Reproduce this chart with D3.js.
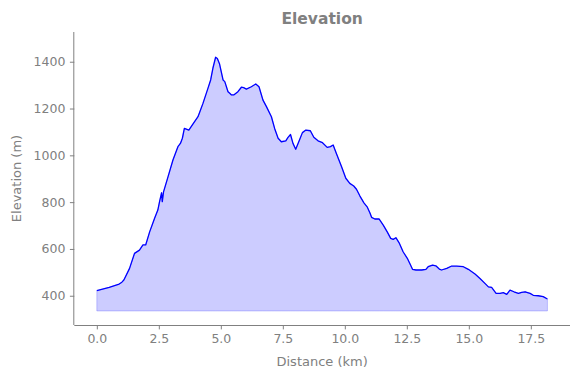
<!DOCTYPE html>
<html>
<head>
<meta charset="utf-8">
<script src="https://cdn.jsdelivr.net/npm/d3@7"></script>
<style>
  html, body { margin: 0; padding: 0; background: #fff; }
  svg { display: block; font-family: "DejaVu Sans", sans-serif; }
</style>
</head>
<body>
<svg id="chart" width="580" height="378"></svg>
<script>
// Distance along the route (km)
const distance = [
  0.00, 0.50, 0.90, 1.01, 1.09, 1.32, 1.52, 1.72, 1.86, 1.97, 2.13, 2.33, 2.46, 2.53, 2.61, 2.64, 2.69,
  2.87, 3.07, 3.27, 3.37, 3.45, 3.53, 3.61, 3.71, 3.88, 4.08, 4.28, 4.48, 4.59, 4.68, 4.79,
  4.86, 4.95, 5.09, 5.16, 5.29, 5.36, 5.43, 5.52, 5.69, 5.83, 5.92, 6.03, 6.23, 6.41, 6.54,
  6.70, 6.84, 7.04, 7.17, 7.31, 7.44, 7.62, 7.71, 7.81, 7.91, 8.02, 8.18, 8.29, 8.43, 8.61,
  8.75, 8.92, 9.10, 9.29, 9.42, 9.53, 9.66, 9.87, 10.04, 10.20, 10.36, 10.47, 10.61, 10.77,
  10.90, 11.01, 11.08, 11.21, 11.38, 11.55, 11.71, 11.85, 11.95, 12.06, 12.19, 12.35, 12.52,
  12.65, 12.73, 12.87, 13.10, 13.27, 13.36, 13.54, 13.67, 13.81, 13.90, 14.11, 14.31, 14.51,
  14.78, 14.98, 15.25, 15.45, 15.65, 15.79, 15.92, 16.10, 16.26, 16.39, 16.53, 16.66, 16.82,
  17.00, 17.13, 17.27, 17.47, 17.60, 17.80, 18.00, 18.17
];
// Elevation (m)
const elevation = [
  422, 436, 450, 458, 467, 517, 581, 595, 617, 617, 673, 731, 766, 802, 840, 802, 844,
  908, 980, 1037, 1051, 1073, 1115, 1112, 1108, 1134, 1165, 1222, 1286, 1322, 1372, 1419,
  1414, 1390, 1322, 1315, 1272, 1265, 1258, 1258, 1272, 1291, 1289, 1283, 1293, 1305, 1293,
  1236, 1208, 1165, 1115, 1073, 1058, 1062, 1077, 1089, 1051, 1026, 1068, 1097, 1108, 1105,
  1077, 1062, 1054, 1034, 1037, 1044, 1008, 951, 902, 880, 869, 855, 826, 797,
  780, 755, 735, 728, 728, 702, 673, 645, 641, 648, 626, 588, 560,
  531, 513, 510, 510, 513, 524, 531, 528, 514, 510, 517, 527, 527,
  524, 513, 493, 474, 453, 438, 436, 410, 410, 413, 406, 424, 417,
  410, 414, 417, 410, 402, 400, 396, 386
];
const fillBase = 335;
const xTicks = [0, 2.5, 5, 7.5, 10, 12.5, 15, 17.5];
const yTicks = [400, 600, 800, 1000, 1200, 1400];

const data = distance.map((d, i) => ({ d, e: elevation[i] }));

const svg = d3.select("#chart");
const pLeft = 74.3, pRight = 570, pTop = 32, pBottom = 325;
const grey = "#808080";

const x = d3.scaleLinear().domain([-0.908, 19.08]).range([pLeft, pRight]);
const y = d3.scaleLinear().domain([275, 1527]).range([pBottom, pTop]);

// Fill
const area = d3.area().x(p => x(p.d)).y0(y(fillBase)).y1(p => y(p.e));
svg.append("path").datum(data)
  .attr("d", area)
  .attr("fill", "rgba(0,0,255,0.2)")
  .attr("stroke", "rgba(0,0,255,0.2)")
  .attr("stroke-width", 1);

// Line
const line = d3.line().x(p => x(p.d)).y(p => y(p.e));
svg.append("path").datum(data)
  .attr("d", line)
  .attr("fill", "none")
  .attr("stroke", "#0000ff")
  .attr("stroke-width", 1.3)
  .attr("stroke-linejoin", "round");

// Axes
const xAxis = d3.axisBottom(x).tickValues(xTicks).tickFormat(d3.format(".1f"))
  .tickSizeInner(4.4).tickSizeOuter(0).tickPadding(4.5);
const yAxis = d3.axisLeft(y).tickValues(yTicks).tickFormat(d3.format("d"))
  .tickSizeInner(4.4).tickSizeOuter(0).tickPadding(4.5);

const gx = svg.append("g").attr("transform", `translate(0,${pBottom})`).call(xAxis);
const gy = svg.append("g").attr("transform", `translate(${pLeft},0)`).call(yAxis);
[gx, gy].forEach(g => {
  g.select(".domain").attr("stroke", grey).attr("stroke-width", 1);
  g.selectAll(".tick line").attr("stroke", grey).attr("stroke-width", 1);
  g.selectAll(".tick text").attr("fill", grey).style("font-size", "12.5px")
    .style("font-family", "DejaVu Sans, sans-serif");
});
gx.select(".domain").attr("d", `M${pLeft},0.5H${pRight}`);
gy.select(".domain").attr("d", `M-0.5,${pTop}V${pBottom}`);

// Title
svg.append("text").attr("x", (pLeft + pRight) / 2).attr("y", 24)
  .attr("text-anchor", "middle").attr("fill", grey)
  .style("font-size", "15.5px").style("font-weight", "bold")
  .text("Elevation");

// Axis labels
svg.append("text").attr("x", (pLeft + pRight) / 2).attr("y", 366)
  .attr("text-anchor", "middle").attr("fill", grey)
  .style("font-size", "13px").text("Distance (km)");
svg.append("text")
  .attr("transform", `translate(20.5,${(pTop + pBottom) / 2}) rotate(-90)`)
  .attr("text-anchor", "middle").attr("fill", grey)
  .style("font-size", "13px").text("Elevation (m)");
</script>
</body>
</html>
